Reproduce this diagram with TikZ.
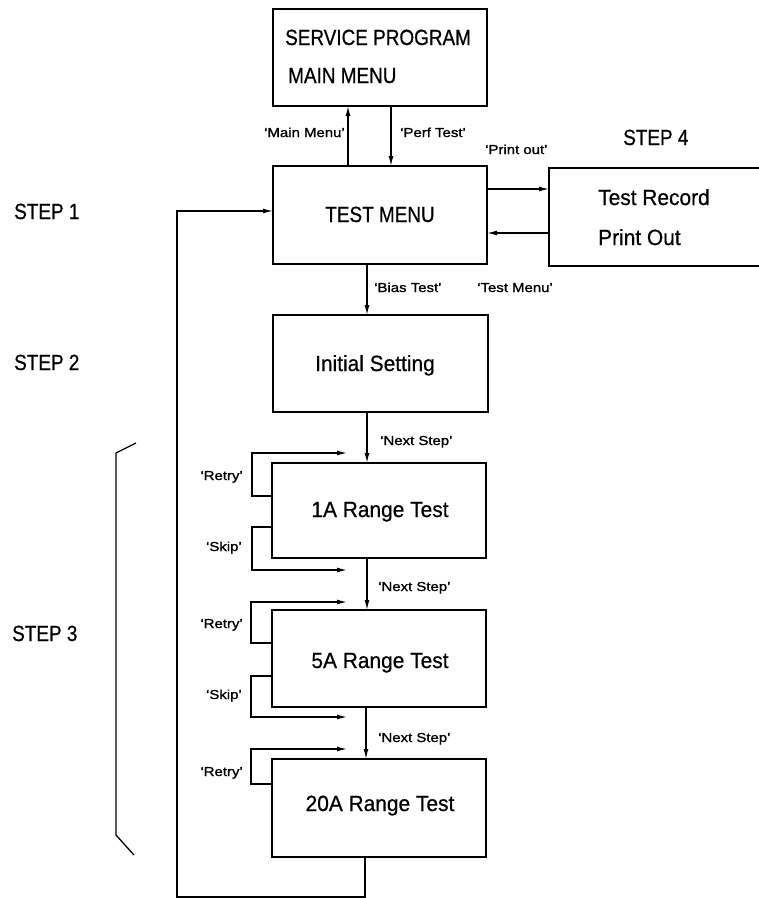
\documentclass[tikz,border=0pt]{standalone}
\usepackage{fontspec}
\setmainfont{Liberation Sans}
\newfontfamily\capsf[FakeStretch=0.86,FakeBold=0.6]{Liberation Sans}
\newfontfamily\boxf[FakeStretch=0.95,FakeBold=0.6]{Liberation Sans}
\newfontfamily\labf[FakeStretch=1.15,FakeBold=1.2]{Liberation Sans}
\usetikzlibrary{arrows.meta}
\tikzset{
  boxnode/.style={draw, line width=2.2pt, inner sep=0pt, outer sep=0pt},
  conn/.style={line width=1.3pt},
  arr/.style={conn, -{Latex[length=10pt,width=5pt]}},
  capst/.style={font=\capsf\fontsize{22}{24}\selectfont, inner sep=0pt, anchor=base west},
  boxt/.style={font=\boxf\fontsize{22}{24}\selectfont, inner sep=0pt, anchor=base west},
  labt/.style={font=\labf\fontsize{13}{15}\selectfont, inner sep=0pt},
}
\begin{document}
\begin{tikzpicture}[x=1pt,y=-1pt]
\clip (0,0) rectangle (759,898);
\fill[white] (0,0) rectangle (759,898);

% boxes
\node[boxnode, minimum width=214pt, minimum height=97pt] (main) at (380,57.5) {};
\node[boxnode, minimum width=214pt, minimum height=98pt] (tm) at (380,215) {};
\node[boxnode, minimum width=222pt, minimum height=98pt] (rec) at (660,217) {};
\node[boxnode, minimum width=215pt, minimum height=97pt] (init) at (380.5,363.5) {};
\node[boxnode, minimum width=214pt, minimum height=95pt] (r1) at (379,510.5) {};
\node[boxnode, minimum width=214pt, minimum height=97pt] (r5) at (379,658.5) {};
\node[boxnode, minimum width=214pt, minimum height=98pt] (r20) at (379,808) {};

% box texts
\node[capst] (mainA) at (285,45) {SERVICE PROGRAM};
\node[capst] (mainB) at (288,83) {MAIN MENU};
\node[capst, anchor=base] (tmT) at (380,222) {TEST MENU};
\node[boxt] (recA) at (598,205) {Test Record};
\node[boxt] (recB) at (598,245) {Print Out};
\node[boxt, anchor=base] (initT) at (375,371) {Initial Setting};
\node[boxt, anchor=base] (r1T) at (380,517) {1A Range Test};
\node[boxt, anchor=base] (r5T) at (380,668) {5A Range Test};
\node[boxt, anchor=base] (r20T) at (380,811) {20A Range Test};

% step labels
\node[capst] (s1) at (14,219) {STEP 1};
\node[capst] (s2) at (14,370) {STEP 2};
\node[capst] (s3) at (12,641) {STEP 3};
\node[capst] (s4) at (623,145) {STEP 4};

% main connectors
\draw[arr] (tm.north -| 348,0) -- (main.south -| 348,0);
\draw[arr] (main.south -| 391,0) -- (tm.north -| 391,0);
\draw[arr] (tm.east |- 0,189) -- (rec.west |- 0,189);
\draw[arr] (rec.west |- 0,233) -- (tm.east |- 0,233);
\draw[arr] (tm.south -| 367,0) -- (init.north -| 367,0);
\draw[arr] (init.south -| 367,0) -- (r1.north -| 367,0);
\draw[arr] (r1.south -| 367,0) -- (r5.north -| 367,0);
\draw[arr] (r5.south -| 366,0) -- (r20.north -| 366,0);

% retry / skip loops
\coordinate (e1r) at (347,453);
\coordinate (e1s) at (347,570);
\coordinate (e5r) at (347,602);
\coordinate (e5s) at (347,717);
\coordinate (e20r) at (347,749);
\draw[arr] (r1.west |- 0,496) -- (252,496) |- (e1r);
\draw[arr] (r1.west |- 0,527) -- (252,527) |- (e1s);
\draw[arr] (r5.west |- 0,643) -- (251,643) |- (e5r);
\draw[arr] (r5.west |- 0,676) -- (251,676) |- (e5s);
\draw[arr] (r20.west |- 0,784) -- (251,784) |- (e20r);

% return path
\draw[arr] (r20.south -| 365,0) -- (365,897) -- (177,897) -- (177,211) -- (tm.west |- 0,211);

% bracket
\coordinate (bA) at (136,443);
\coordinate (bB) at (134,855);
\draw[conn] (bA) -- (116,453) -- (116,835) -- (bB);

% connector labels
\node[labt, anchor=base east] (lMain) at (345,137) {‘Main Menu’};
\node[labt, anchor=base west] (lPerf) at (400,137) {‘Perf Test’};
\node[labt, anchor=base west] (lPrint) at (485,154) {‘Print out’};
\node[labt, anchor=base west] (lTM) at (477,292) {‘Test Menu’};
\node[labt, anchor=base west] (lBias) at (374,292) {‘Bias Test’};
\node[labt, anchor=base west] (lN1) at (380,445) {‘Next Step’};
\node[labt, anchor=base west] (lN2) at (378,591) {‘Next Step’};
\node[labt, anchor=base west] (lN3) at (378,742) {‘Next Step’};
\node[labt, anchor=base east] (lR1) at (243,480) {‘Retry’};
\node[labt, anchor=base east] (lS1) at (242,551) {‘Skip’};
\node[labt, anchor=base east] (lR5) at (243,628) {‘Retry’};
\node[labt, anchor=base east] (lS5) at (242,699) {‘Skip’};
\node[labt, anchor=base east] (lR20) at (243,776) {‘Retry’};
\end{tikzpicture}
\end{document}
